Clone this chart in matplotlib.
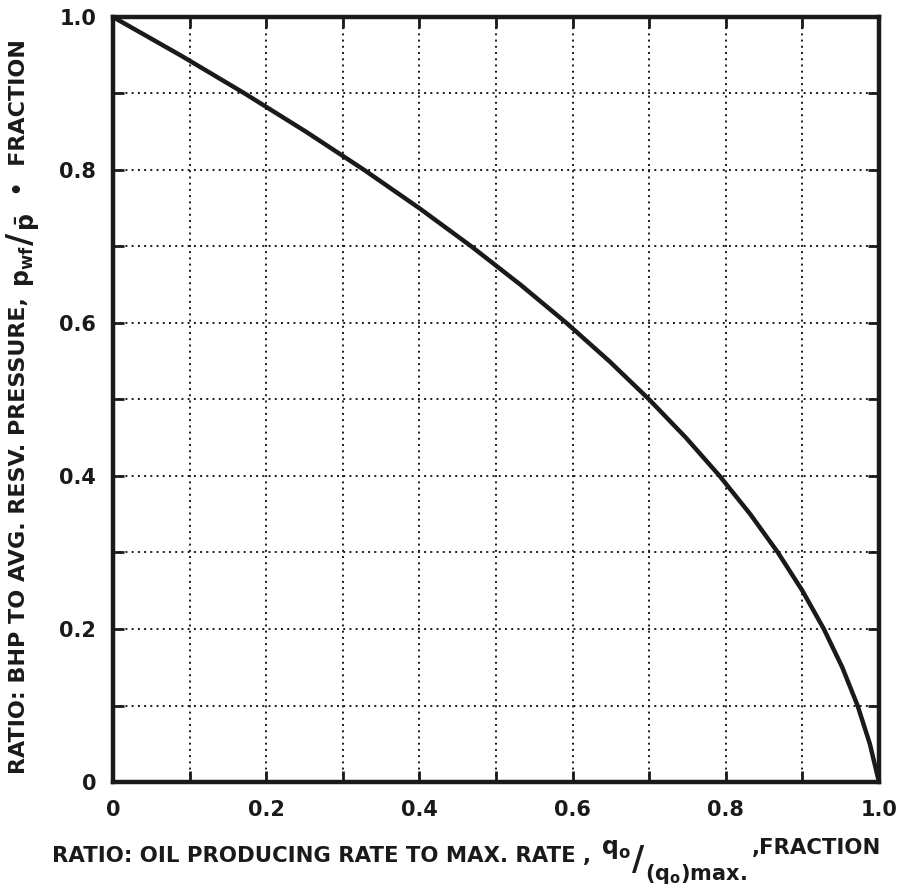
import matplotlib
matplotlib.use('Agg')
import matplotlib.pyplot as plt
from matplotlib.ticker import MultipleLocator, FixedLocator

# values
p_ratio = [1.0, 0.95, 0.9, 0.85, 0.8, 0.75, 0.7, 0.65, 0.6, 0.55, 0.5,
           0.45, 0.4, 0.35, 0.3, 0.25, 0.2, 0.15, 0.1, 0.05, 0.0]
q_ratio = [0.0, 0.088, 0.172, 0.252, 0.328, 0.40, 0.468, 0.532, 0.592, 0.648, 0.70,
           0.748, 0.792, 0.832, 0.868, 0.90, 0.928, 0.952, 0.972, 0.988, 1.0]

tick_vals = [0, 0.2, 0.4, 0.6, 0.8, 1.0]
tick_labels = ['0', '0.2', '0.4', '0.6', '0.8', '1.0']

# label pieces: (text, fontsize, shift in px (+ is up / left of the baseline), gap after)
xlabel_parts = [('RATIO: OIL PRODUCING RATE TO MAX. RATE ,', 15.3, 0, 10),
                (r'$q_o$', 17, 8, 1),
                ('/', 24, -8, 1),
                (r'$(q_o)$max.', 15, -18, 5),
                (',FRACTION', 15.3, 8, 0)]
ylabel_parts = [('RATIO: BHP TO AVG. RESV. PRESSURE, ', 16, 0, 2),
                (r'$p_{wf}$', 17, -4, 1),
                ('/', 24, -6, 1),
                (r'$\bar{p}$', 17, -10, 2),
                ('  \u2022  FRACTION', 16, 0, 0)]

INK = '#1a1a1a'

plt.rcParams['font.family'] = ['DejaVu Sans']
plt.rcParams['font.weight'] = 'bold'
plt.rcParams['mathtext.fontset'] = 'dejavusans'
plt.rcParams['mathtext.default'] = 'bf'

W, H = 916, 896
fig = plt.figure(figsize=(W / 100, H / 100), dpi=100)
ax = fig.add_axes([113 / W, 1 - 782 / H, 766 / W, 765 / H])

ax.plot(q_ratio, p_ratio, color=INK, lw=3.2, solid_capstyle='round')

ax.set_xlim(0, 1)
ax.set_ylim(0, 1)

ax.xaxis.set_major_locator(FixedLocator(tick_vals))
ax.yaxis.set_major_locator(FixedLocator(tick_vals))
ax.xaxis.set_minor_locator(MultipleLocator(0.1))
ax.yaxis.set_minor_locator(MultipleLocator(0.1))
ax.set_xticklabels(tick_labels, fontsize=15, fontweight='bold', color=INK)
ax.set_yticklabels(tick_labels, fontsize=15, fontweight='bold', color=INK)

ax.tick_params(which='both', direction='in', length=8, width=2, color=INK,
               top=True, right=True)
ax.tick_params(axis='x', which='major', pad=13)
ax.tick_params(axis='y', which='major', pad=12)

ax.grid(which='both', color=INK, linestyle=(0, (1, 2.2)), linewidth=1.4)

for s in ax.spines.values():
    s.set_linewidth(3.2)
    s.set_color(INK)

renderer = fig.canvas.get_renderer()


def run_text(parts, start, base, vertical=False):
    # lay the pieces one after another along the label direction (pixels)
    pos = start
    for txt, size, shift, gap in parts:
        if vertical:
            t = fig.text((base - shift) / W, pos / H, txt, fontsize=size,
                         fontweight='bold', color=INK, rotation=90,
                         rotation_mode='anchor', ha='left', va='baseline')
            pos += t.get_window_extent(renderer).height + gap
        else:
            t = fig.text(pos / W, (base + shift) / H, txt, fontsize=size,
                         fontweight='bold', color=INK, ha='left', va='baseline')
            pos += t.get_window_extent(renderer).width + gap
    return pos


# x label: starts near x=52 px, baseline about 34 px above the bottom
run_text(xlabel_parts, 52, H - 862)
# y label: reads upward from 122 px above the bottom, baseline at x=25 px
run_text(ylabel_parts, H - 774, 25, vertical=True)

fig.savefig('out.png', dpi=100)
